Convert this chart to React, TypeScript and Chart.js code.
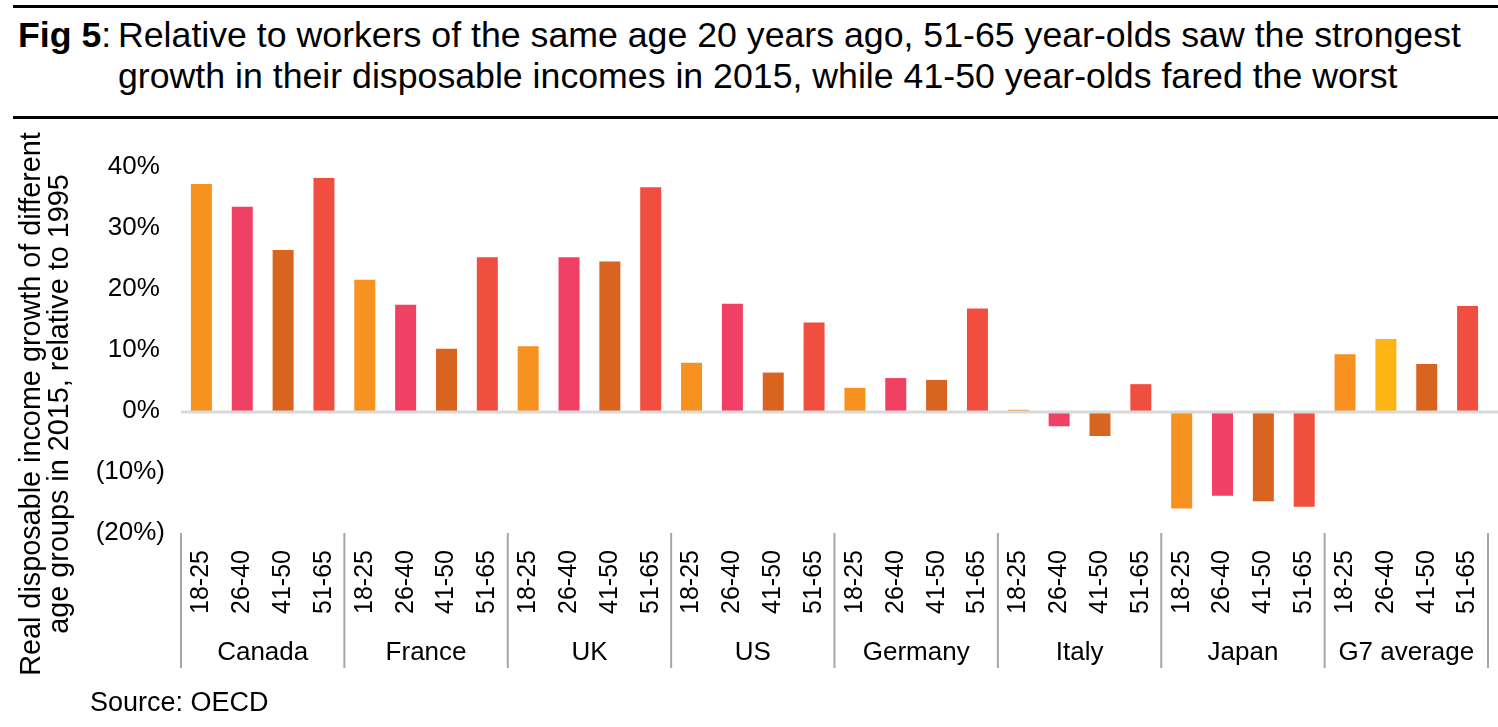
import React, { useEffect, useRef } from "react";
import { Chart, registerables } from "chart.js";

Chart.register(...registerables);

const countries = ["Canada", "France", "UK", "US", "Germany", "Italy", "Japan", "G7 average"];
const ageGroups = ["18-25", "26-40", "41-50", "51-65"];
const age18to25 = [37.2, 21.5, 10.6, 7.9, 3.8, 0.2, -16.0, 9.3];
const age26to40 = [33.5, 17.4, 25.2, 17.6, 5.4, -2.5, -13.9, 11.8];
const age41to50 = [26.4, 10.2, 24.5, 6.3, 5.1, -4.1, -14.8, 7.7];
const age51to65 = [38.2, 25.2, 36.7, 14.5, 16.8, 4.4, -15.7, 17.2];
const yMin = -20;
const yMax = 40;
const yStep = 10;

const ageColors = ["#F7911F", "#F04064", "#D8641F", "#F04E3E"];
const highlightColor = "#FDB515"; // G7 average 26-40

const FONT = "'Liberation Sans', Arial, Helvetica, sans-serif";

export default function App() {
  const canvasRef = useRef<HTMLCanvasElement | null>(null);

  useEffect(() => {
    const canvas = canvasRef.current;
    if (!canvas) return;
    const series = [age18to25, age26to40, age41to50, age51to65];
    const labels: string[] = [];
    const values: number[] = [];
    const colors: string[] = [];
    countries.forEach((c, ci) => {
      ageGroups.forEach((a, ai) => {
        labels.push(a);
        values.push(series[ai][ci]);
        colors.push(c === "G7 average" && ai === 1 ? highlightColor : ageColors[ai]);
      });
    });

    const extras = {
      id: "extras",
      afterDatasetsDraw(chart: any) {
        const { ctx, chartArea, scales } = chart;
        const y = scales.y;
        const y0 = y.getPixelForValue(0);
        ctx.save();
        ctx.strokeStyle = "#D9D9D9";
        ctx.lineWidth = 3;
        ctx.beginPath();
        ctx.moveTo(chartArea.left, y0 + 1);
        ctx.lineTo(chart.width, y0 + 1);
        ctx.stroke();
        ctx.restore();
      },
      afterDraw(chart: any) {
        const { ctx, chartArea, scales } = chart;
        const x = scales.x;
        const n = ageGroups.length;
        const catW = x.getPixelForValue(1) - x.getPixelForValue(0);
        ctx.save();
        // group separators
        ctx.strokeStyle = "#A6A6A6";
        ctx.lineWidth = 2;
        for (let g = 0; g <= countries.length; g++) {
          const idx = g * n;
          const px =
            idx >= labels.length
              ? x.getPixelForValue(labels.length - 1) + catW / 2
              : x.getPixelForValue(idx) - catW / 2;
          ctx.beginPath();
          ctx.moveTo(px, chartArea.bottom);
          ctx.lineTo(px, chartArea.bottom + 135);
          ctx.stroke();
        }
        // country labels
        ctx.fillStyle = "#000";
        ctx.font = `26px ${FONT}`;
        ctx.textAlign = "center";
        ctx.textBaseline = "middle";
        countries.forEach((c, g) => {
          const cx = (x.getPixelForValue(g * n) + x.getPixelForValue(g * n + n - 1)) / 2;
          ctx.fillText(c, cx, chartArea.bottom + 120);
        });
        // y-axis title
        ctx.font = `28.8px ${FONT}`;
        ctx.translate(32, 404);
        ctx.rotate(-Math.PI / 2);
        ctx.fillText("Real disposable income growth of different", 0, 0);
        ctx.fillText("age groups in 2015, relative to 1995", 0, 28);
        ctx.restore();
      },
    };

    const chart = new Chart(canvas, {
      type: "bar",
      data: {
        labels,
        datasets: [
          {
            data: values,
            backgroundColor: colors,
            borderWidth: 0,
            barPercentage: 0.514,
            categoryPercentage: 1,
          },
        ],
      },
      options: {
        responsive: false,
        animation: false,
        events: [],
        layout: { padding: { left: 0, right: 10, top: 167, bottom: 0 } },
        plugins: {
          legend: { display: false },
          tooltip: { enabled: false },
          title: { display: false },
        },
        scales: {
          x: {
            grid: { display: false, drawTicks: false },
            border: { display: false },
            ticks: {
              autoSkip: false,
              minRotation: 90,
              maxRotation: 90,
              padding: 17,
              color: "#000",
              font: { family: FONT, size: 25 },
            },
            afterFit: (scale: any) => {
              scale.height = 727 - 533;
              scale.paddingLeft = 0;
              scale.paddingRight = 0;
            },
          },
          y: {
            min: yMin,
            max: yMax,
            grid: { display: false, drawTicks: false },
            border: { display: false },
            ticks: {
              stepSize: yStep,
              padding: 16,
              color: "#000",
              font: { family: FONT, size: 26 },
              callback: (v: any) => (Number(v) < 0 ? `(${-Number(v)}%)` : `${v}%\u2009`),
            },
            afterFit: (scale: any) => {
              scale.width = 181;
              scale.paddingTop = 0;
              scale.paddingBottom = 0;
            },
          },
        },
      },
      plugins: [extras],
    });
    return () => chart.destroy();
  }, []);

  return (
    <div
      style={{
        position: "fixed",
        left: 0,
        top: 0,
        width: 1498,
        height: 727,
        background: "#fff",
        overflow: "hidden",
        fontFamily: FONT,
        color: "#000",
      }}
    >
      <div style={{ position: "absolute", left: 13, right: 0, top: 5, height: 2.5, background: "#000" }} />
      <div
        style={{
          position: "absolute",
          left: 18,
          top: 15,
          fontSize: 35.7,
          lineHeight: "41px",
          whiteSpace: "nowrap",
        }}
      >
        <b>Fig 5</b>:
      </div>
      <div
        style={{
          position: "absolute",
          left: 118,
          top: 15,
          fontSize: 35.7,
          lineHeight: "41px",
          whiteSpace: "nowrap",
        }}
      >
        Relative to workers of the same age 20 years ago, 51-65 year-olds saw the strongest
        <br />
        growth in their disposable incomes in 2015, while 41-50 year-olds fared the worst
      </div>
      <div style={{ position: "absolute", left: 13, right: 0, top: 116, height: 2.5, background: "#000" }} />
      <canvas
        ref={canvasRef}
        width={1498}
        height={727}
        style={{ position: "absolute", left: 0, top: 0, width: 1498, height: 727, display: "block" }}
      />
      <div
        style={{
          position: "absolute",
          left: 90,
          top: 689,
          fontSize: 27,
          lineHeight: "27px",
          whiteSpace: "nowrap",
        }}
      >
        Source: OECD
      </div>
    </div>
  );
}
